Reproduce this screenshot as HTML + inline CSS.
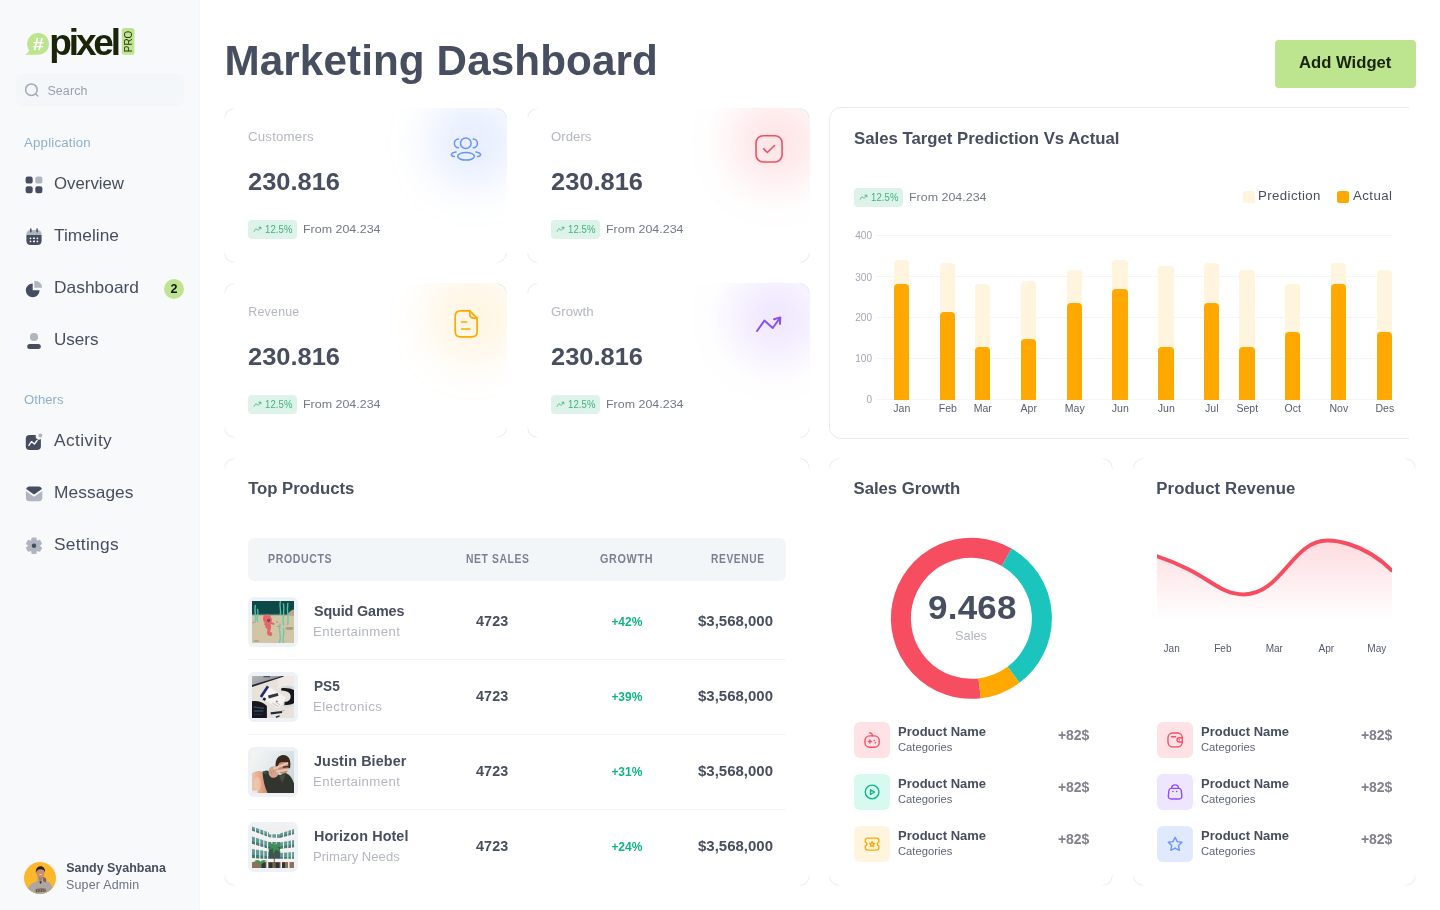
<!DOCTYPE html>
<html lang="en">
<head>
<meta charset="utf-8">
<title>Marketing Dashboard</title>
<style>
*{box-sizing:border-box;margin:0;padding:0}
html,body{width:1440px;height:910px;overflow:hidden;background:#fff}
body{font-family:"Liberation Sans",sans-serif;color:#464E5F;position:relative}
.abs,.t{position:absolute}
.t{white-space:nowrap;line-height:1}
svg{display:block;overflow:visible}
.card{position:absolute;background:#fff;border-radius:12px;overflow:hidden}
.rim{position:absolute;border:1px solid #e3e5ea;border-radius:10.5px;pointer-events:none;
 -webkit-mask:radial-gradient(circle 11.5px at 0 0,#000 70%,transparent 100%),radial-gradient(circle 11.5px at 100% 0,#000 70%,transparent 100%),radial-gradient(circle 11.5px at 0 100%,#000 70%,transparent 100%),radial-gradient(circle 11.5px at 100% 100%,#000 70%,transparent 100%);
 mask:radial-gradient(circle 11.5px at 0 0,#000 70%,transparent 100%),radial-gradient(circle 11.5px at 100% 0,#000 70%,transparent 100%),radial-gradient(circle 11.5px at 0 100%,#000 70%,transparent 100%),radial-gradient(circle 11.5px at 100% 100%,#000 70%,transparent 100%)}

</style>
</head>
<body>
<aside aria-label="Sidebar">
<div class="abs" style="left:0;top:0;width:200px;height:910px;background:#f8f9fb;border-right:1px solid #f4f7fa"></div>
<svg class="abs" style="left:20px;top:24px;" width="120" height="44" viewBox="0 0 120 44"><path d="M18.100 9.100c6 0 10.900 4.900 10.900 10.800s-4.900 10.800-10.900 10.800H5c2-1.100 3.400-2.500 4.200-4.200C7.900 24.700 7.200 22.400 7.200 19.900 7.200 14 12.100 9.100 18.100 9.100z" fill="#bde48f"/><text x="18.3" y="25.900" font-family="'Liberation Sans',sans-serif" font-weight="700" font-size="17" fill="#fff" text-anchor="middle" textLength="11" lengthAdjust="spacingAndGlyphs">#</text><text x="29.300" y="30.700" font-family="'Liberation Sans',sans-serif" font-weight="700" font-size="37" letter-spacing="-3.15" fill="#1a2409">pixel</text><rect x="101.800" y="4.100" width="12.600" height="26.600" rx="2.500" fill="#bde48f"/><text transform="translate(112.300 28.200) rotate(-90)" font-family="'Liberation Sans',sans-serif" font-size="10.500" fill="#2a3a12" textLength="21.500" lengthAdjust="spacingAndGlyphs">PRO</text></svg>
<div class="abs" style="left:16px;top:74px;width:168px;height:32px;background:#f4f7fa;border-radius:6px;"></div>
<svg class="abs" style="left:24px;top:82px;" width="16" height="16" viewBox="0 0 16 16"><circle cx="7.400" cy="7.700" r="5.800" fill="none" stroke="#a3a8b4" stroke-width="1.500"/><path d="M11.700 12l2.100 2" stroke="#a3a8b4" stroke-width="1.500" stroke-linecap="round"/></svg>
<span class="t" style="left:47.40px;top:84px;font-size:12.44px;line-height:14px;color:#9a9eaa;letter-spacing:0.12px;">Search</span>
<span class="t" style="left:24.40px;top:136px;font-size:12.44px;line-height:14px;color:#8fb0cd;letter-spacing:0.18px;transform:scaleX(1.065);transform-origin:0 0;">Application</span>
<span class="t" style="left:24.40px;top:393px;font-size:12.44px;line-height:14px;color:#8fb0cd;transform:scaleX(1.0581);transform-origin:0 0;">Others</span>
<span class="t" style="left:54.40px;top:174px;font-size:16.27px;line-height:18px;transform:scaleX(1.0324);transform-origin:0 0;">Overview</span>
<span class="t" style="left:54.40px;top:226px;font-size:16.27px;line-height:18px;letter-spacing:0.02px;transform:scaleX(1.065);transform-origin:0 0;">Timeline</span>
<span class="t" style="left:54.40px;top:278px;font-size:16.27px;line-height:18px;letter-spacing:0.03px;transform:scaleX(1.065);transform-origin:0 0;">Dashboard</span>
<span class="t" style="left:54.40px;top:330px;font-size:16.27px;line-height:18px;transform:scaleX(1.0497);transform-origin:0 0;">Users</span>
<span class="t" style="left:54.40px;top:431px;font-size:16.27px;line-height:18px;letter-spacing:0.39px;transform:scaleX(1.065);transform-origin:0 0;">Activity</span>
<span class="t" style="left:54.40px;top:483px;font-size:16.27px;line-height:18px;letter-spacing:0.07px;transform:scaleX(1.065);transform-origin:0 0;">Messages</span>
<span class="t" style="left:54.40px;top:535px;font-size:16.27px;line-height:18px;letter-spacing:0.27px;transform:scaleX(1.065);transform-origin:0 0;">Settings</span>
<svg class="abs" style="left:22px;top:173px;" width="24" height="24" viewBox="0 0 24 24"><rect x="3.600" y="3.600" width="7.100" height="7" rx="2.200" fill="#474d61"/><rect x="13.300" y="3.600" width="7.100" height="7" rx="2.200" fill="#b0b5c0"/><rect x="3.600" y="13.200" width="7.100" height="7" rx="2.200" fill="#474d61"/><rect x="13.300" y="13.200" width="7.100" height="7" rx="2.200" fill="#474d61"/></svg>
<svg class="abs" style="left:22px;top:225px;" width="24" height="24" viewBox="0 0 24 24"><path d="M4.400 9.500c0-2.600 1.500-4.400 4.300-4.400h6.600c2.800 0 4.300 1.800 4.300 4.400v0.600H4.400z" fill="#b0b5c0"/><path d="M4.400 10.100h15.200v5.700c0 2.700-1.500 4.300-4.300 4.300H8.700c-2.800 0-4.300-1.600-4.300-4.300z" fill="#474d61"/><path d="M8.800 3.900v2.800M15.100 3.900v2.800" stroke="#474d61" stroke-width="1.500" stroke-linecap="round"/><g fill="#fff"><circle cx="8.500" cy="13.300" r="0.850"/><rect x="11" y="12.500" width="2" height="1.600" rx="0.500"/><circle cx="15.400" cy="13.300" r="0.850"/><circle cx="8.500" cy="16.400" r="0.850"/><rect x="11" y="15.600" width="2" height="1.600" rx="0.500"/><circle cx="15.400" cy="16.400" r="0.850"/></g></svg>
<svg class="abs" style="left:22px;top:277px;" width="24" height="24" viewBox="0 0 24 24"><path d="M10.700 13.300V6.400a6.900 6.900 0 1 0 6.900 6.900z" fill="#474d61"/><path d="M12.300 3.900a7 7 0 0 1 7.800 6.900h-7.800z" fill="#b0b5c0"/></svg>
<svg class="abs" style="left:22px;top:329px;" width="24" height="24" viewBox="0 0 24 24"><circle cx="12" cy="8" r="4.100" fill="#b0b5c0"/><rect x="5.200" y="15" width="13.600" height="5" rx="2.500" fill="#474d61"/></svg>
<svg class="abs" style="left:22px;top:430px;" width="24" height="24" viewBox="0 0 24 24"><path d="M7.400 5.100h6.500a3.300 3.300 0 0 0 5 4v7.400c0 2.200-1.400 3.600-3.600 3.600H7.400c-2.200 0-3.600-1.400-3.600-3.600V8.700c0-2.200 1.400-3.600 3.600-3.600z" fill="#474d61"/><circle cx="18.300" cy="5.400" r="2" fill="#b0b5c0"/><path d="M6.900 15.400l2.600-3.800 2.900 2.500 2.700-3.600" fill="none" stroke="#fff" stroke-width="1.300" stroke-linecap="round" stroke-linejoin="round"/></svg>
<svg class="abs" style="left:22px;top:482px;" width="24" height="24" viewBox="0 0 24 24"><path d="M3.900 8.900l7.300 5.400a1.400 1.400 0 0 0 1.600 0l7.500-5.400v7.200c0 1.900-1.300 3.200-3.200 3.200H7.100c-1.900 0-3.200-1.300-3.200-3.200z" fill="#b0b5c0"/><path d="M4.200 6.900c0.400-1.500 1.600-2.400 3.200-2.400h9.300c1.600 0 2.800 0.900 3.200 2.400l-7 5a1.500 1.500 0 0 1-1.700 0z" fill="#474d61"/></svg>
<svg class="abs" style="left:22px;top:534px;" width="24" height="24" viewBox="0 0 24 24"><polygon points="10.31,4.49 13.69,4.49 14.07,7.36 14.81,7.79 17.49,6.69 19.17,9.61 16.88,11.37 16.88,12.23 19.17,13.99 17.49,16.91 14.81,15.81 14.07,16.24 13.69,19.11 10.31,19.11 9.93,16.24 9.19,15.81 6.51,16.91 4.83,13.99 7.12,12.23 7.12,11.37 4.83,9.61 6.51,6.69 9.19,7.79 9.93,7.36" fill="#b0b5c0" stroke="#b0b5c0" stroke-width="1.800" stroke-linejoin="round"/><circle cx="12" cy="11.800" r="2.200" fill="#474d61"/></svg>
<div class="abs" style="left:164px;top:278.500px;width:20px;height:20px;border-radius:50%;background:#bfe490"></div>
<span class="t" style="left:170.60px;top:282px;font-size:12.6px;line-height:14px;font-weight:700;color:#11190a;">2</span>
<svg class="abs" style="left:24px;top:862px;" width="32" height="32" viewBox="0 0 32 32"><defs><clipPath id="av"><circle cx="16" cy="16" r="16"/></clipPath><filter id="avb" x="-10%" y="-10%" width="120%" height="120%"><feGaussianBlur stdDeviation="0.45"/></filter></defs><g clip-path="url(#av)"><rect width="32" height="32" fill="#fdb72c"/><g filter="url(#avb)"><path d="M3.500 27.500c1-3 2.500-5 5-6l4.300-2.200 0.900-4.800h5.600l2.500 4.300 3.700 1.700c1.800 1.200 2.600 3.500 3.200 7v5H3z" fill="#aea69f"/><path d="M19.300 14.800l2.700 1.700c0.500 1.300 0.300 2.800-0.500 4l-2.500-1.800z" fill="#6f645c"/><path d="M13.300 13.500l3.200 7.500 3-7.500z" fill="#b97c5a"/><path d="M15.200 19.500l1.300 2.500 1.500-2.500z" fill="#2c2b2a"/><ellipse cx="16.400" cy="10.600" rx="4.100" ry="4.900" fill="#c98f6c"/><path d="M12 11c-0.600-3.600 1.300-6.600 4.300-6.700 3.200-0.100 5.200 2.600 4.700 6.300-0.700-2.300-1.800-3.300-4.500-3.300-2.500 0-3.800 1.200-4.500 3.700z" fill="#2a2320"/><path d="M15.300 12.500h2.500" stroke="#f0dccf" stroke-width="0.800"/><path d="M11.500 27c2-0.800 3.500-1 5-0.800 2-0.300 4 0 5.500 0.600l0.500 3-11 0.700z" fill="#6a5a48" opacity="0.550"/><path d="M12.500 27.500v2.500M15 27v3M17.500 27v3M20 27.200v2.600" stroke="#4d4034" stroke-width="0.900" opacity="0.700"/></g></g></svg>
<span class="t" style="left:66.30px;top:861px;font-size:12.44px;line-height:14px;font-weight:700;">Sandy Syahbana</span>
<span class="t" style="left:66.00px;top:878px;font-size:12.44px;line-height:14px;color:#6c7386;letter-spacing:0.20px;">Super Admin</span>
</aside>
<main>
<header>
<span class="t" style="left:224.50px;top:37px;font-size:42.2px;line-height:47px;font-weight:700;letter-spacing:0.11px;">Marketing Dashboard</span>
<div class="abs" style="left:1275px;top:40px;width:141px;height:48px;background:#bde48f;border-radius:4px;"></div>
<span class="t" style="left:1298.80px;top:53px;font-size:16.27px;line-height:18px;font-weight:700;color:#1a2409;transform:scaleX(1.0241);transform-origin:0 0;">Add Widget</span>
</header>
<section aria-label="Statistics">
<div class="card" style="left:224px;top:108px;width:283px;height:155px;"><div class="abs" style="left:203px;top:-12px;width:92px;height:92px;border-radius:50%;background:rgba(105,147,255,0.155);filter:blur(21px)"></div></div>
<div class="rim" style="left:224px;top:108px;width:283px;height:155px"></div>
<span class="t" style="left:248.30px;top:130px;font-size:12.44px;line-height:14px;color:#b4b7c1;letter-spacing:0.19px;transform:scaleX(1.065);transform-origin:0 0;">Customers</span>
<span class="t" style="left:248.30px;top:168px;font-size:24.8px;line-height:27px;font-weight:700;transform:scaleX(1.0263);transform-origin:0 0;">230.816</span>
<div class="abs" style="left:248px;top:220.3px;width:49px;height:18.5px;background:#ddf3ea;border-radius:4px;"></div>
<svg class="abs" style="left:252.5px;top:225.3px;" width="9" height="9" viewBox="0 0 9 9"><path d="M1.200 6.300c0.900-2.300 1.900-3 2.700-2 0.700 0.900 1.300 1.300 2.100 0.200l1.500-2M5.900 2.300l1.800-0.300 0.200 1.800" fill="none" stroke="#3fb27f" stroke-width="0.900" stroke-linecap="round" stroke-linejoin="round"/></svg>
<span class="t" style="left:265.30px;top:224px;font-size:10.05px;line-height:11px;color:#3fb27f;letter-spacing:0.10px;transform:scaleX(0.9482);transform-origin:0 0;">12.5%</span>
<span class="t" style="left:302.50px;top:222px;font-size:11.68px;line-height:13px;color:#747989;letter-spacing:0.01px;transform:scaleX(1.065);transform-origin:0 0;">From 204.234</span>
<svg class="abs" style="left:446px;top:129px;" width="40" height="40" viewBox="0 0 40 40"><g fill="none" stroke="#6993FF" stroke-width="1.500" stroke-linecap="round"><circle cx="19.800" cy="14.300" r="5.300"/><ellipse cx="20" cy="27.300" rx="8.400" ry="3.800"/><path d="M12.500 10.050A4.330 4.330 0 0 0 12.500 18.700M27.300 10.050A4.330 4.330 0 0 1 27.300 18.700"/><path d="M10.100 22.900c-5.800 0.800-6.200 4-1.800 4.700M29.800 22.900c5.800 0.800 6.200 4 1.800 4.700"/></g></svg>
<div class="card" style="left:527px;top:108px;width:283px;height:155px;"><div class="abs" style="left:203px;top:-12px;width:92px;height:92px;border-radius:50%;background:rgba(246,78,96,0.15);filter:blur(21px)"></div></div>
<div class="rim" style="left:527px;top:108px;width:283px;height:155px"></div>
<span class="t" style="left:551.30px;top:130px;font-size:12.44px;line-height:14px;color:#b4b7c1;transform:scaleX(1.065);transform-origin:0 0;">Orders</span>
<span class="t" style="left:551.30px;top:168px;font-size:24.8px;line-height:27px;font-weight:700;transform:scaleX(1.0263);transform-origin:0 0;">230.816</span>
<div class="abs" style="left:551px;top:220.3px;width:49px;height:18.5px;background:#ddf3ea;border-radius:4px;"></div>
<svg class="abs" style="left:555.5px;top:225.3px;" width="9" height="9" viewBox="0 0 9 9"><path d="M1.200 6.300c0.900-2.300 1.900-3 2.700-2 0.700 0.900 1.300 1.300 2.100 0.200l1.500-2M5.900 2.300l1.800-0.300 0.200 1.800" fill="none" stroke="#3fb27f" stroke-width="0.900" stroke-linecap="round" stroke-linejoin="round"/></svg>
<span class="t" style="left:568.30px;top:224px;font-size:10.05px;line-height:11px;color:#3fb27f;letter-spacing:0.10px;transform:scaleX(0.9482);transform-origin:0 0;">12.5%</span>
<span class="t" style="left:605.50px;top:222px;font-size:11.68px;line-height:13px;color:#747989;letter-spacing:0.01px;transform:scaleX(1.065);transform-origin:0 0;">From 204.234</span>
<svg class="abs" style="left:749px;top:129px;" width="40" height="40" viewBox="0 0 40 40"><g fill="none" stroke="#F64E60" stroke-width="1.600" stroke-linecap="round" stroke-linejoin="round"><rect x="7" y="6.700" width="26.100" height="26.300" rx="7.200"/><path d="M14.700 19.900l3.600 3.600 7.200-7"/></g></svg>
<div class="card" style="left:224px;top:283px;width:283px;height:155px;"><div class="abs" style="left:203px;top:-12px;width:92px;height:92px;border-radius:50%;background:rgba(255,168,0,0.115);filter:blur(21px)"></div></div>
<div class="rim" style="left:224px;top:283px;width:283px;height:155px"></div>
<span class="t" style="left:248.30px;top:305px;font-size:12.44px;line-height:14px;color:#b4b7c1;letter-spacing:0.20px;">Revenue</span>
<span class="t" style="left:248.30px;top:343px;font-size:24.8px;line-height:27px;font-weight:700;transform:scaleX(1.0263);transform-origin:0 0;">230.816</span>
<div class="abs" style="left:248px;top:395.3px;width:49px;height:18.5px;background:#ddf3ea;border-radius:4px;"></div>
<svg class="abs" style="left:252.5px;top:400.3px;" width="9" height="9" viewBox="0 0 9 9"><path d="M1.200 6.300c0.900-2.300 1.900-3 2.700-2 0.700 0.900 1.300 1.300 2.100 0.200l1.500-2M5.900 2.300l1.800-0.300 0.200 1.800" fill="none" stroke="#3fb27f" stroke-width="0.900" stroke-linecap="round" stroke-linejoin="round"/></svg>
<span class="t" style="left:265.30px;top:399px;font-size:10.05px;line-height:11px;color:#3fb27f;letter-spacing:0.10px;transform:scaleX(0.9482);transform-origin:0 0;">12.5%</span>
<span class="t" style="left:302.50px;top:397px;font-size:11.68px;line-height:13px;color:#747989;letter-spacing:0.01px;transform:scaleX(1.065);transform-origin:0 0;">From 204.234</span>
<svg class="abs" style="left:446px;top:304px;" width="40" height="40" viewBox="0 0 40 40"><g fill="none" stroke="#FFA800" stroke-width="1.700" stroke-linecap="round" stroke-linejoin="round"><path d="M23.800 6.800H14.600c-3.400 0-5.400 2-5.400 5.400v15.300c0 3.400 2 5.400 5.400 5.400h11.100c3.400 0 5.400-2 5.400-5.400V14.100z"/><path d="M23.800 6.800v3.200c0 2.700 1.400 4.100 4.100 4.100h3.200"/><path d="M15.600 18h5M15.600 25h8.100"/></g></svg>
<div class="card" style="left:527px;top:283px;width:283px;height:155px;"><div class="abs" style="left:203px;top:-12px;width:92px;height:92px;border-radius:50%;background:rgba(137,80,252,0.13);filter:blur(21px)"></div></div>
<div class="rim" style="left:527px;top:283px;width:283px;height:155px"></div>
<span class="t" style="left:551.30px;top:305px;font-size:12.44px;line-height:14px;color:#b4b7c1;transform:scaleX(1.0624);transform-origin:0 0;">Growth</span>
<span class="t" style="left:551.30px;top:343px;font-size:24.8px;line-height:27px;font-weight:700;transform:scaleX(1.0263);transform-origin:0 0;">230.816</span>
<div class="abs" style="left:551px;top:395.3px;width:49px;height:18.5px;background:#ddf3ea;border-radius:4px;"></div>
<svg class="abs" style="left:555.5px;top:400.3px;" width="9" height="9" viewBox="0 0 9 9"><path d="M1.200 6.300c0.900-2.300 1.900-3 2.700-2 0.700 0.900 1.300 1.300 2.100 0.200l1.500-2M5.900 2.300l1.800-0.300 0.200 1.800" fill="none" stroke="#3fb27f" stroke-width="0.900" stroke-linecap="round" stroke-linejoin="round"/></svg>
<span class="t" style="left:568.30px;top:399px;font-size:10.05px;line-height:11px;color:#3fb27f;letter-spacing:0.10px;transform:scaleX(0.9482);transform-origin:0 0;">12.5%</span>
<span class="t" style="left:605.50px;top:397px;font-size:11.68px;line-height:13px;color:#747989;letter-spacing:0.01px;transform:scaleX(1.065);transform-origin:0 0;">From 204.234</span>
<svg class="abs" style="left:749px;top:304px;" width="40" height="40" viewBox="0 0 40 40"><g fill="none" stroke="#8950FC" stroke-width="2" stroke-linecap="round" stroke-linejoin="round"><path d="M8 27l7.400-10.400 8.300 7.400 7.300-10.200"/><path d="M25 15.300l6.300-1.900-0.400 6.500"/></g></svg>
</section>
<section aria-label="Sales Target Prediction Vs Actual">
<div class="abs" style="left:829px;top:107px;width:580px;height:332px;overflow:hidden"><div class="abs" style="left:0;top:0;width:600px;height:332px;border:1px solid #e8eaee;border-radius:12px;background:#fff"></div></div>
<span class="t" style="left:854.00px;top:129px;font-size:16.27px;line-height:18px;font-weight:700;transform:scaleX(1.0303);transform-origin:0 0;">Sales Target Prediction Vs Actual</span>
<div class="abs" style="left:854px;top:188.3px;width:49px;height:18.5px;background:#ddf3ea;border-radius:4px;"></div>
<svg class="abs" style="left:858.5px;top:193.3px;" width="9" height="9" viewBox="0 0 9 9"><path d="M1.200 6.300c0.900-2.300 1.900-3 2.700-2 0.700 0.900 1.300 1.300 2.100 0.200l1.500-2M5.900 2.300l1.800-0.300 0.200 1.800" fill="none" stroke="#3fb27f" stroke-width="0.900" stroke-linecap="round" stroke-linejoin="round"/></svg>
<span class="t" style="left:871.30px;top:192px;font-size:10.05px;line-height:11px;color:#3fb27f;letter-spacing:0.10px;transform:scaleX(0.9482);transform-origin:0 0;">12.5%</span>
<span class="t" style="left:908.50px;top:190px;font-size:11.68px;line-height:13px;color:#747989;letter-spacing:0.01px;transform:scaleX(1.065);transform-origin:0 0;">From 204.234</span>
<div class="abs" style="left:1243px;top:191px;width:12px;height:12px;background:#FFF4DE;border-radius:2.5px;"></div>
<span class="t" style="left:1258.00px;top:189px;font-size:12.44px;line-height:14px;letter-spacing:0.37px;transform:scaleX(1.065);transform-origin:0 0;">Prediction</span>
<div class="abs" style="left:1337px;top:191px;width:12px;height:12px;background:#FFA800;border-radius:2.5px;"></div>
<span class="t" style="left:1353.00px;top:189px;font-size:12.44px;line-height:14px;letter-spacing:0.41px;transform:scaleX(1.065);transform-origin:0 0;">Actual</span>
<div class="abs" style="left:876px;top:235px;width:516px;height:1px;background:#f4f5f7;"></div>
<span class="t" style="left:855.23px;top:230px;font-size:10.05px;line-height:11px;color:#a3a6b3;">400</span>
<div class="abs" style="left:876px;top:276px;width:516px;height:1px;background:#f4f5f7;"></div>
<span class="t" style="left:855.23px;top:272px;font-size:10.05px;line-height:11px;color:#a3a6b3;">300</span>
<div class="abs" style="left:876px;top:317px;width:516px;height:1px;background:#f4f5f7;"></div>
<span class="t" style="left:855.23px;top:312px;font-size:10.05px;line-height:11px;color:#a3a6b3;">200</span>
<div class="abs" style="left:876px;top:358px;width:516px;height:1px;background:#f4f5f7;"></div>
<span class="t" style="left:855.23px;top:353px;font-size:10.05px;line-height:11px;color:#a3a6b3;">100</span>
<div class="abs" style="left:876px;top:399px;width:516px;height:1px;background:#f4f5f7;"></div>
<span class="t" style="left:866.41px;top:394px;font-size:10.05px;line-height:11px;color:#a3a6b3;">0</span>
<div class="abs" style="left:894px;top:260px;width:15px;height:140px;background:#FFF4DE;border-radius:4px 4px 0 0;"></div>
<div class="abs" style="left:894px;top:283.7px;width:15px;height:116.3px;background:#FFA800;border-radius:4px 4px 0 0;"></div>
<span class="t" style="left:893.31px;top:402px;font-size:10.53px;line-height:12px;color:#565d71;">Jan</span>
<div class="abs" style="left:940px;top:263px;width:15px;height:137px;background:#FFF4DE;border-radius:4px 4px 0 0;"></div>
<div class="abs" style="left:940px;top:312px;width:15px;height:88px;background:#FFA800;border-radius:4px 4px 0 0;"></div>
<span class="t" style="left:938.73px;top:402px;font-size:10.53px;line-height:12px;color:#565d71;">Feb</span>
<div class="abs" style="left:975px;top:283.7px;width:15px;height:116.3px;background:#FFF4DE;border-radius:4px 4px 0 0;"></div>
<div class="abs" style="left:975px;top:346.8px;width:15px;height:53.2px;background:#FFA800;border-radius:4px 4px 0 0;"></div>
<span class="t" style="left:973.73px;top:402px;font-size:10.53px;line-height:12px;color:#565d71;">Mar</span>
<div class="abs" style="left:1021px;top:281px;width:15px;height:119px;background:#FFF4DE;border-radius:4px 4px 0 0;"></div>
<div class="abs" style="left:1021px;top:339px;width:15px;height:61px;background:#FFA800;border-radius:4px 4px 0 0;"></div>
<span class="t" style="left:1020.61px;top:402px;font-size:10.53px;line-height:12px;color:#565d71;">Apr</span>
<div class="abs" style="left:1067px;top:270px;width:15px;height:130px;background:#FFF4DE;border-radius:4px 4px 0 0;"></div>
<div class="abs" style="left:1067px;top:303px;width:15px;height:97px;background:#FFA800;border-radius:4px 4px 0 0;"></div>
<span class="t" style="left:1064.85px;top:402px;font-size:10.53px;line-height:12px;color:#565d71;">May</span>
<div class="abs" style="left:1112px;top:260px;width:16px;height:140px;background:#FFF4DE;border-radius:4px 4px 0 0;"></div>
<div class="abs" style="left:1112px;top:288.8px;width:16px;height:111.2px;background:#FFA800;border-radius:4px 4px 0 0;"></div>
<span class="t" style="left:1111.81px;top:402px;font-size:10.53px;line-height:12px;color:#565d71;">Jun</span>
<div class="abs" style="left:1158px;top:266.2px;width:16px;height:133.8px;background:#FFF4DE;border-radius:4px 4px 0 0;"></div>
<div class="abs" style="left:1158px;top:346.8px;width:16px;height:53.2px;background:#FFA800;border-radius:4px 4px 0 0;"></div>
<span class="t" style="left:1157.81px;top:402px;font-size:10.53px;line-height:12px;color:#565d71;">Jun</span>
<div class="abs" style="left:1204px;top:263px;width:15px;height:137px;background:#FFF4DE;border-radius:4px 4px 0 0;"></div>
<div class="abs" style="left:1204px;top:303px;width:15px;height:97px;background:#FFA800;border-radius:4px 4px 0 0;"></div>
<span class="t" style="left:1205.07px;top:402px;font-size:10.53px;line-height:12px;color:#565d71;">Jul</span>
<div class="abs" style="left:1239px;top:270px;width:16px;height:130px;background:#FFF4DE;border-radius:4px 4px 0 0;"></div>
<div class="abs" style="left:1239px;top:346.8px;width:16px;height:53.2px;background:#FFA800;border-radius:4px 4px 0 0;"></div>
<span class="t" style="left:1236.47px;top:402px;font-size:10.53px;line-height:12px;color:#565d71;">Sept</span>
<div class="abs" style="left:1285px;top:284px;width:15px;height:116px;background:#FFF4DE;border-radius:4px 4px 0 0;"></div>
<div class="abs" style="left:1285px;top:332px;width:15px;height:68px;background:#FFA800;border-radius:4px 4px 0 0;"></div>
<span class="t" style="left:1284.61px;top:402px;font-size:10.53px;line-height:12px;color:#565d71;">Oct</span>
<div class="abs" style="left:1331px;top:263px;width:15px;height:137px;background:#FFF4DE;border-radius:4px 4px 0 0;"></div>
<div class="abs" style="left:1331px;top:284px;width:15px;height:116px;background:#FFA800;border-radius:4px 4px 0 0;"></div>
<span class="t" style="left:1329.44px;top:402px;font-size:10.53px;line-height:12px;color:#565d71;">Nov</span>
<div class="abs" style="left:1377px;top:270px;width:15px;height:130px;background:#FFF4DE;border-radius:4px 4px 0 0;"></div>
<div class="abs" style="left:1377px;top:332px;width:15px;height:68px;background:#FFA800;border-radius:4px 4px 0 0;"></div>
<span class="t" style="left:1375.44px;top:402px;font-size:10.53px;line-height:12px;color:#565d71;">Des</span>
</section>
<section aria-label="Top Products">
<div class="rim" style="left:224px;top:458px;width:586px;height:428px"></div>
<span class="t" style="left:248.20px;top:479px;font-size:16.75px;line-height:19px;font-weight:700;letter-spacing:-0.06px;">Top Products</span>
<div class="abs" style="left:248px;top:538px;width:538px;height:42.5px;background:#f3f6f9;border-radius:6px;"></div>
<span class="t" style="left:268.20px;top:552px;font-size:11.96px;line-height:14px;font-weight:700;color:#7c8091;letter-spacing:0.70px;transform:scaleX(0.8832);transform-origin:0 0;">PRODUCTS</span>
<span class="t" style="left:466.00px;top:552px;font-size:11.96px;line-height:14px;font-weight:700;color:#7c8091;letter-spacing:0.70px;transform:scaleX(0.8664);transform-origin:0 0;">NET SALES</span>
<span class="t" style="left:600.40px;top:552px;font-size:11.96px;line-height:14px;font-weight:700;color:#7c8091;letter-spacing:0.70px;transform:scaleX(0.9056);transform-origin:0 0;">GROWTH</span>
<span class="t" style="left:711.10px;top:552px;font-size:11.96px;line-height:14px;font-weight:700;color:#7c8091;letter-spacing:0.70px;transform:scaleX(0.8546);transform-origin:0 0;">REVENUE</span>
<div class="abs" style="left:248px;top:597px;width:50px;height:50px;background:#eef2f6;border-radius:6px;"></div>
<svg class="abs" style="left:252px;top:601px;overflow:hidden;" width="42" height="42" viewBox="0 0 42 42"><defs><filter id="tb0" x="-5%" y="-5%" width="110%" height="110%"><feGaussianBlur stdDeviation="0.4"/></filter></defs><g filter="url(#tb0)"><rect width="42" height="42" fill="#d0c6a5"/><rect width="42" height="13.800" fill="#10494a"/><rect y="12.800" width="42" height="1.800" fill="#6f8f7c" opacity="0.450"/><path d="M35.500 14c1.500-3.500 4-5 6.500-5.500v6z" fill="#b3a88a"/><ellipse cx="37.500" cy="27.400" rx="4" ry="1.400" fill="#a69b7e"/><ellipse cx="25" cy="21" rx="1.200" ry="0.700" fill="#a69b7e"/><ellipse cx="26" cy="25.400" rx="1.100" ry="0.600" fill="#a69b7e"/><ellipse cx="4.300" cy="39.900" rx="3.200" ry="1" fill="#b0a68a"/><ellipse cx="1.500" cy="21.500" rx="1.500" ry="0.800" fill="#b0a68a"/><g fill="none" stroke="#63c8ae" stroke-width="1.400" stroke-linecap="round" opacity="0.900"><path d="M3.300 4.500q-0.700 4 0 8t0 8.300M5.600 8.500q0.600 3 0 6t0 6M28.300 0.500q-0.600 3.400 0 6.800t0 6.700M31.500 3q0.700 5 0 10.500t0 10.500M35.800 2.500q-0.700 5 0 10.500t0 10.500M28 23q-1 5 0 9.500t-0.500 9.500M31.500 27.500q0.800 4 0 7.500t0 7"/></g><path d="M11.300 15.800l0.900-2.300 1.500 1.300 1.700-2 1.100 1.900 2-0.900 0.200 2.200c1.400 1.300 1.600 3.300 0.800 5l3.300 1.400-0.800 1.700-3.500-1.100c1.200 2.600 0.700 5.800-0.900 7.800 2 0.100 3.100 1.400 2.600 2.900-0.600 1.700-3.500 1.700-4.700-0.200-0.900-1.500-0.400-3.600 0.200-5-1.700-0.900-2.700-2.600-2.500-4.600l-1.500-0.300 1.200-1.600c-1.900-1.600-2.400-4.100-1.600-6.200z" fill="#e5646c"/><circle cx="16.600" cy="19.400" r="1.300" fill="#4a3338"/><circle cx="16.200" cy="19" r="0.400" fill="#e9c9c9"/></g></svg>
<span class="t" style="left:314.00px;top:603px;font-size:14.35px;line-height:16px;font-weight:700;letter-spacing:-0.13px;">Squid Games</span>
<span class="t" style="left:313.20px;top:625px;font-size:12.44px;line-height:14px;color:#b4b7c1;letter-spacing:0.34px;transform:scaleX(1.065);transform-origin:0 0;">Entertainment</span>
<span class="t" style="left:476.00px;top:613px;font-size:14.3px;line-height:16px;font-weight:700;letter-spacing:0.16px;">4723</span>
<span class="t" style="left:611.38px;top:615px;font-size:11.96px;line-height:14px;font-weight:700;color:#0BB783;">+42%</span>
<span class="t" style="left:698.40px;top:613px;font-size:14.3px;line-height:16px;font-weight:700;transform:scaleX(1.0479);transform-origin:0 0;">$3,568,000</span>
<div class="abs" style="left:248px;top:659px;width:538px;height:1px;background:#f3f4f6;"></div>
<div class="abs" style="left:248px;top:672px;width:50px;height:50px;background:#eef2f6;border-radius:6px;"></div>
<svg class="abs" style="left:252px;top:676px;overflow:hidden;" width="42" height="42" viewBox="0 0 42 42"><defs><filter id="tb1" x="-5%" y="-5%" width="110%" height="110%"><feGaussianBlur stdDeviation="0.4"/></filter></defs><g filter="url(#tb1)"><defs><linearGradient id="lp" x1="0" y1="0" x2="1" y2="0.400"><stop offset="0" stop-color="#b3b6b9"/><stop offset="1" stop-color="#8b8e92"/></linearGradient></defs><rect width="42" height="42" fill="#e9e2db"/><rect x="26" width="16" height="12" fill="#efe9e5"/><path d="M0 0h30.500L0 9.200z" fill="url(#lp)"/><path d="M0 9l30.700-9.200 1.300 0.800L0 10.900z" fill="#23272b"/><path d="M11.500 0.300h6.500v0.900h-6.500z" fill="#2a2d31"/><path d="M14.900 9.600L34 21.750 26.750 32.750 7.750 20.250z" fill="#f4f4f4"/><path d="M14.900 9.600l2.200 1.400-7.100 10.700-2.250-1.450z" fill="#1c2c6a"/><path d="M16 19.600l9.700-2.700 0.800 2.900-9.700 2.700z" fill="#35353a"/><path d="M11.900 21.300l2.300 1.400-1.500 2.300-2.200-1.500z" fill="#1f1f22"/><circle cx="24.900" cy="25.300" r="0.900" fill="#d9534f"/><path d="M20.500 27l6.500 4" stroke="#9a9a9a" stroke-width="0.600"/><path d="M23.500 26l4.500 2.800" stroke="#8a8a8a" stroke-width="0.500"/><path d="M29.200 10.800c4-1.400 9-1.500 12.800 0.300v3.500c-4-1.300-8.500-1.600-12.800-1.200z" fill="#d3d7dc"/><path d="M29.200 12.200c5-0.600 9.500 0 12.800 1.800v13.500c-3 2-6.500 2.500-9.800 2l0.500-3.700c2.500 0 4.300-0.900 5.300-2.600 1.300-2.400 0.800-5.300-1.500-7-2-1.400-4.700-1.700-7.300-1.800z" fill="#16181b"/><path d="M32.500 28.800c3.300 0.500 6.700 0 9.500-1.500v2.400c-3 1.400-6.300 1.800-9.700 1.200z" fill="#d9dce0"/><path d="M0 25.300c5.500-0.800 11 0.600 14.900 4.700V42H0z" fill="#15181c"/><path d="M1.500 31l10.500 1.300M2 35h9.500" stroke="#2c4a63" stroke-width="1.500"/><path d="M2 38.500h8" stroke="#23313f" stroke-width="1.200"/><path d="M18.600 36.300l11.300-1.400 0.300 2-11.300 1.600zM23.700 40.500l3.700-1.200 0.400 1.300-3.600 1.300z" fill="#1b2a39"/><path d="M29.900 34.900l2.600-0.400" stroke="#8aa0b5" stroke-width="0.800"/></g></svg>
<span class="t" style="left:314.00px;top:678px;font-size:14.35px;line-height:16px;font-weight:700;transform:scaleX(0.9512);transform-origin:0 0;">PS5</span>
<span class="t" style="left:313.20px;top:700px;font-size:12.44px;line-height:14px;color:#b4b7c1;letter-spacing:0.38px;transform:scaleX(1.065);transform-origin:0 0;">Electronics</span>
<span class="t" style="left:476.00px;top:688px;font-size:14.3px;line-height:16px;font-weight:700;letter-spacing:0.16px;">4723</span>
<span class="t" style="left:611.38px;top:690px;font-size:11.96px;line-height:14px;font-weight:700;color:#0BB783;">+39%</span>
<span class="t" style="left:698.40px;top:688px;font-size:14.3px;line-height:16px;font-weight:700;transform:scaleX(1.0479);transform-origin:0 0;">$3,568,000</span>
<div class="abs" style="left:248px;top:734px;width:538px;height:1px;background:#f3f4f6;"></div>
<div class="abs" style="left:248px;top:747px;width:50px;height:50px;background:#eef2f6;border-radius:6px;"></div>
<svg class="abs" style="left:252px;top:751px;overflow:hidden;" width="42" height="42" viewBox="0 0 42 42"><defs><filter id="tb2" x="-5%" y="-5%" width="110%" height="110%"><feGaussianBlur stdDeviation="0.4"/></filter></defs><g filter="url(#tb2)"><defs><linearGradient id="jb" x1="0" y1="0" x2="1" y2="0.600"><stop offset="0" stop-color="#f6f5f4"/><stop offset="0.500" stop-color="#e3eaec"/><stop offset="1" stop-color="#cad9de"/></linearGradient><linearGradient id="jba" x1="0" y1="0" x2="1" y2="0"><stop offset="0" stop-color="#f0c3a6"/><stop offset="1" stop-color="#d68f6b"/></linearGradient></defs><rect width="42" height="42" fill="url(#jb)"/><path d="M23.800 17c-1.200-6.500 1.500-12.800 7.400-13 5.600-0.200 8.300 5.400 6.800 13.200z" fill="#3b261c"/><ellipse cx="31.300" cy="16.300" rx="5.200" ry="7" fill="#c28b72"/><path d="M25.800 12.500c1-3.500 3-5 5.600-5 2.800 0 4.700 1.800 5.300 5.500-2-1.800-4-2.300-6-2-1.800 0.300-3.400 0.800-4.900 1.500z" fill="#3b261c"/><path d="M9.300 21.500c4-2.600 9.500-2.300 13.500 1l5.200 1.500 5.500-2c4.500 1.500 7 5.500 8.500 10.500v9.500H13.500c-3.500-6-4.800-13.500-4.200-20.500z" fill="#30352d"/><path d="M27 24l3 8 4-9.500c-2 1.700-4.500 2.200-7 1.500z" fill="#4a4f3f"/><path d="M9.500 21.500c1.800-1.200 3.600-1.800 5.400-1.800l-0.600 3.800z" fill="#2d5953"/><path d="M0 22.500c3.500-2.800 7.500-3.300 10.500-1.500 0.500 7.500 2 14.500 5 21H0z" fill="url(#jba)"/><ellipse cx="5.500" cy="33" rx="3.500" ry="7" fill="#f4d2bb" opacity="0.550"/><path d="M0 39.500h5.500V42H0z" fill="#f5e6e1"/><path d="M16.500 20c0.500-3 3-5 6-4.600l3.500 2.300c1.500 2.700 0.800 6.300-1.700 8.300-2.800 1.700-6 0.700-7.300-2.300-0.500-1.200-0.700-2.500-0.500-3.700z" fill="#d6a58d"/><path d="M22 17.500l13.300-5.300M25 20.300l11-1.700" stroke="#ebc5b4" stroke-width="2.300" stroke-linecap="round" fill="none"/><path d="M31.500 16.200l5 -0.600" stroke="#2a2220" stroke-width="1.300" stroke-linecap="round"/><path d="M18.500 19.500l1.500 4M21 18.300l1.300 3.800" stroke="#b98a74" stroke-width="0.700" fill="none"/></g></svg>
<span class="t" style="left:314.00px;top:753px;font-size:14.35px;line-height:16px;font-weight:700;letter-spacing:0.13px;">Justin Bieber</span>
<span class="t" style="left:313.20px;top:775px;font-size:12.44px;line-height:14px;color:#b4b7c1;letter-spacing:0.34px;transform:scaleX(1.065);transform-origin:0 0;">Entertainment</span>
<span class="t" style="left:476.00px;top:763px;font-size:14.3px;line-height:16px;font-weight:700;letter-spacing:0.16px;">4723</span>
<span class="t" style="left:611.38px;top:765px;font-size:11.96px;line-height:14px;font-weight:700;color:#0BB783;">+31%</span>
<span class="t" style="left:698.40px;top:763px;font-size:14.3px;line-height:16px;font-weight:700;transform:scaleX(1.0479);transform-origin:0 0;">$3,568,000</span>
<div class="abs" style="left:248px;top:809px;width:538px;height:1px;background:#f3f4f6;"></div>
<div class="abs" style="left:248px;top:822px;width:50px;height:50px;background:#eef2f6;border-radius:6px;"></div>
<svg class="abs" style="left:252px;top:826px;overflow:hidden;" width="42" height="42" viewBox="0 0 42 42"><defs><filter id="tb3" x="-5%" y="-5%" width="110%" height="110%"><feGaussianBlur stdDeviation="0.4"/></filter></defs><g filter="url(#tb3)"><rect width="42" height="42" fill="#f1efef"/><g fill="#5f9c96"><path d="M0 0.500L17 6.600V11.900L0 4.800z"/><path d="M0 10.500L17 16.100V23.100L0 18z"/><path d="M0 23L17 25.500V33.400L0 32z"/><path d="M28 7.500L42 3V8.500L28 12z"/><path d="M28 16.500L42 14V21.500L28 23z"/><path d="M28 27L42 26V33.500H28z"/><path d="M17 8.300H28V12.600H17z"/></g><g fill="#2f5754" opacity="0.500"><path d="M0 3.200L17 9.600V11.900L0 4.800z"/><path d="M0 15L17 20.200V23.100L0 18z"/><path d="M0 28.500L17 30.300V33.400L0 32z"/><path d="M28 10L42 6.200V8.500L28 12z"/><path d="M28 20.300L42 18.300V21.500L28 23z"/><path d="M28 31H42V33.500H28z"/></g><path d="M17 16h11v20H17z" fill="#3a5653"/><path d="M17 16h11v5H17z" fill="#5f9c96" opacity="0.600"/><g stroke="#f1efef" stroke-width="1.100" fill="none"><path d="M3.500 0v36M7.800 0v36M11.800 0v36M15.500 0v36M19.800 6v12M24.500 6v12M31.500 0v36M35.800 0v36M39.500 0v36"/></g><g fill="#f4f2f2"><path d="M0 4.800L18 11.400 28 12 42 8.300V10.800L28 14.500 18 13.900 0 7.500z"/><path d="M0 18L17 23.100V25.500L0 20.600z"/><path d="M28 23L42 21.500V24L28 25.500z"/><path d="M0 32.800H42V36H0z"/></g><path d="M0 36h42v6H0z" fill="#8f7058"/><g fill="#2a3534"><path d="M9.500 36.500h4V42h-4zM17 36.500h3.500V42H17zM23.500 36.500h4V42h-4zM30 36.500h3V42h-3z"/></g><g fill="#efe9e6"><path d="M14.500 36h1.500v6h-1.500zM28.500 36H30v6h-1.500zM36 36h1.500v6H36z"/></g><path d="M22.300 24v17.500" stroke="#5c5140" stroke-width="0.900"/><path d="M22.300 19.500c-2.500-2.500-5-2.700-6.300-1.300 2.300 0 3.800 0.800 4.800 2.200-2.400 0-4.200 1.600-4.600 4.400 1.800-1.700 3.600-2.300 5.300-2-0.800 1.600-0.800 3.300 0 5.200 0.500-2 1.400-3.500 2.600-4.300 1.800 0.300 3.300 1.600 4.300 3.800 0.300-3-0.800-5.200-3-6.300 1.900-0.500 3.400 0 4.600 1.200-0.700-2.800-3.700-4.300-7.700-2.900z" fill="#3c8f4f"/><path d="M21.500 18c1-1.200 2.500-1.700 4.500-1.200-1.500 0.500-2.500 1.300-3 2.500z" fill="#56b068"/><path d="M8.500 41.500v-5c-1.500-1.800-3.300-2.300-5-1.300 1.700 0.100 3 0.800 3.800 2.200M8.500 36.500c1.300-1.800 3-2.300 5-1.500-1.800 0.300-3 1.100-3.800 2.400" fill="none" stroke="#3f9552" stroke-width="1.200" stroke-linecap="round"/></g></svg>
<span class="t" style="left:314.00px;top:828px;font-size:14.35px;line-height:16px;font-weight:700;letter-spacing:0.10px;">Horizon Hotel</span>
<span class="t" style="left:313.20px;top:850px;font-size:12.44px;line-height:14px;color:#b4b7c1;transform:scaleX(1.0551);transform-origin:0 0;">Primary Needs</span>
<span class="t" style="left:476.00px;top:838px;font-size:14.3px;line-height:16px;font-weight:700;letter-spacing:0.16px;">4723</span>
<span class="t" style="left:611.38px;top:840px;font-size:11.96px;line-height:14px;font-weight:700;color:#0BB783;">+24%</span>
<span class="t" style="left:698.40px;top:838px;font-size:14.3px;line-height:16px;font-weight:700;transform:scaleX(1.0479);transform-origin:0 0;">$3,568,000</span>
</section>
<section aria-label="Sales Growth">
<div class="rim" style="left:829px;top:458px;width:284px;height:428px"></div>
<span class="t" style="left:853.50px;top:479px;font-size:16.75px;line-height:19px;font-weight:700;letter-spacing:-0.03px;">Sales Growth</span>
<svg class="abs" style="left:881px;top:528px;" width="181" height="181" viewBox="0 0 181 181"><g fill="none" stroke-width="20"><path d="M98.63 160.32A70.5 70.5 0 1 1 125.65 29.25" stroke="#F64E60"/><path d="M125.65 29.25A70.5 70.5 0 0 1 132.53 146.83" stroke="#1BC5BD"/><path d="M132.53 146.83A70.5 70.5 0 0 1 98.63 160.32" stroke="#FFA800"/></g></svg>
<span class="t" style="left:927.55px;top:589px;font-size:32.8px;line-height:37px;font-weight:700;letter-spacing:0.25px;transform:scaleX(1.065);transform-origin:0 0;">9.468</span>
<span class="t" style="left:954.70px;top:629px;font-size:11.96px;line-height:14px;color:#b4b7c1;letter-spacing:0.03px;transform:scaleX(1.065);transform-origin:0 0;">Sales</span>
<div class="abs" style="left:854px;top:722px;width:36px;height:36px;background:#FFE2E5;border-radius:6px;"></div>
<svg class="abs" style="left:860.9px;top:728.9px;" width="22.2" height="22.2" viewBox="0 0 24 24"><g fill="none" stroke="#F64E60" stroke-width="1.500" stroke-linecap="round" stroke-linejoin="round"><rect x="4.300" y="7.400" width="15.400" height="12.300" rx="5" /><path d="M12.200 7.400c0.300-2-0.800-3.100-3-3.200"/><path d="M8 13.500h3.300M9.650 11.850v3.300"/><path d="M14.400 12.500h0.100M15.500 15h0.100" stroke-width="1.700"/></g></svg>
<span class="t" style="left:898.00px;top:725px;font-size:12.44px;line-height:14px;font-weight:700;transform:scaleX(1.0435);transform-origin:0 0;">Product Name</span>
<span class="t" style="left:898.00px;top:741px;font-size:10.53px;line-height:12px;color:#5e6578;letter-spacing:0.01px;transform:scaleX(1.065);transform-origin:0 0;">Categories</span>
<span class="t" style="left:1057.90px;top:727px;font-size:14px;line-height:16px;font-weight:700;color:#80808f;letter-spacing:-0.08px;">+82$</span>
<div class="abs" style="left:854px;top:774px;width:36px;height:36px;background:#D7F9EF;border-radius:6px;"></div>
<svg class="abs" style="left:860.9px;top:780.9px;" width="22.2" height="22.2" viewBox="0 0 24 24"><g fill="none" stroke="#0BB783" stroke-width="1.500" stroke-linecap="round" stroke-linejoin="round"><circle cx="12" cy="11.900" r="7.400"/><path d="M10.300 9.500l4.400 2.400-4.400 2.700z"/></g></svg>
<span class="t" style="left:898.00px;top:777px;font-size:12.44px;line-height:14px;font-weight:700;transform:scaleX(1.0435);transform-origin:0 0;">Product Name</span>
<span class="t" style="left:898.00px;top:793px;font-size:10.53px;line-height:12px;color:#5e6578;letter-spacing:0.01px;transform:scaleX(1.065);transform-origin:0 0;">Categories</span>
<span class="t" style="left:1057.90px;top:779px;font-size:14px;line-height:16px;font-weight:700;color:#80808f;letter-spacing:-0.08px;">+82$</span>
<div class="abs" style="left:854px;top:826px;width:36px;height:36px;background:#FFF4DE;border-radius:6px;"></div>
<svg class="abs" style="left:860.9px;top:832.9px;" width="22.2" height="22.2" viewBox="0 0 24 24"><g fill="none" stroke="#FFA800" stroke-width="1.500" stroke-linecap="round" stroke-linejoin="round"><path d="M7.200 5.500h9.600c1.600 0 2.500 0.900 2.500 2.500v1.900c-1.100 0.300-1.700 1.100-1.700 2.100s0.600 1.800 1.700 2.100v1.900c0 1.600-0.900 2.500-2.500 2.500H7.200c-1.600 0-2.500-0.900-2.500-2.500v-1.900c1.100-0.300 1.700-1.100 1.700-2.100s-0.600-1.800-1.700-2.100V8c0-1.600 0.900-2.500 2.500-2.500z"/><path d="M12 9.400l0.900 1.700 1.900 0.300-1.400 1.300 0.300 1.900-1.700-0.900-1.700 0.900 0.300-1.900-1.400-1.300 1.900-0.300z"/></g></svg>
<span class="t" style="left:898.00px;top:829px;font-size:12.44px;line-height:14px;font-weight:700;transform:scaleX(1.0435);transform-origin:0 0;">Product Name</span>
<span class="t" style="left:898.00px;top:845px;font-size:10.53px;line-height:12px;color:#5e6578;letter-spacing:0.01px;transform:scaleX(1.065);transform-origin:0 0;">Categories</span>
<span class="t" style="left:1057.90px;top:831px;font-size:14px;line-height:16px;font-weight:700;color:#80808f;letter-spacing:-0.08px;">+82$</span>
</section>
<section aria-label="Product Revenue">
<div class="rim" style="left:1133px;top:458px;width:283px;height:428px"></div>
<span class="t" style="left:1156.30px;top:479px;font-size:16.75px;line-height:19px;font-weight:700;letter-spacing:0.09px;">Product Revenue</span>
<svg class="abs" style="left:1157px;top:538px;" width="235" height="90" viewBox="0 0 235 90"><defs><linearGradient id="ar" x1="0" y1="0" x2="0" y2="1"><stop offset="0" stop-color="#F64E60" stop-opacity="0.2"/><stop offset="1" stop-color="#F64E60" stop-opacity="0"/></linearGradient><clipPath id="arc"><rect x="0" y="-5" width="235" height="95"/></clipPath></defs><g clip-path="url(#arc)"><path d="M-0.5 18.1C52.7 35.6 59.8 56.4 86.8 56.4C124.9 56.4 134.8 2.6 170.1 2.6C170.2 2.6 204.2 1.3 235.5 33.2V82H-0.5z" fill="url(#ar)"/><path d="M-0.5 18.1C52.7 35.6 59.8 56.4 86.8 56.4C124.9 56.4 134.8 2.6 170.1 2.6C170.2 2.6 204.2 1.3 235.5 33.2" fill="none" stroke="#F64E60" stroke-width="4"/></g></svg>
<span class="t" style="left:1163.60px;top:643px;font-size:10.05px;line-height:11px;color:#535a6e;">Jan</span>
<span class="t" style="left:1214.24px;top:643px;font-size:10.05px;line-height:11px;color:#535a6e;">Feb</span>
<span class="t" style="left:1265.65px;top:643px;font-size:10.05px;line-height:11px;color:#535a6e;">Mar</span>
<span class="t" style="left:1318.48px;top:643px;font-size:10.05px;line-height:11px;color:#535a6e;">Apr</span>
<span class="t" style="left:1367.31px;top:643px;font-size:10.05px;line-height:11px;color:#535a6e;">May</span>
<div class="abs" style="left:1157px;top:722px;width:36px;height:36px;background:#FFE2E5;border-radius:6px;"></div>
<svg class="abs" style="left:1163.9px;top:728.9px;" width="22.2" height="22.2" viewBox="0 0 24 24"><g fill="none" stroke="#F64E60" stroke-width="1.500" stroke-linecap="round" stroke-linejoin="round"><rect x="4.300" y="4.400" width="15.400" height="14.900" rx="5"/><path d="M8.100 8.400h4.400"/><path d="M19.700 9.400h-3.300a2.300 2.300 0 0 0 0 4.600h3.300"/><path d="M16.400 11.600h0.100" stroke-width="1.500"/></g></svg>
<span class="t" style="left:1201.00px;top:725px;font-size:12.44px;line-height:14px;font-weight:700;transform:scaleX(1.0435);transform-origin:0 0;">Product Name</span>
<span class="t" style="left:1201.00px;top:741px;font-size:10.53px;line-height:12px;color:#5e6578;letter-spacing:0.01px;transform:scaleX(1.065);transform-origin:0 0;">Categories</span>
<span class="t" style="left:1360.90px;top:727px;font-size:14px;line-height:16px;font-weight:700;color:#80808f;letter-spacing:-0.08px;">+82$</span>
<div class="abs" style="left:1157px;top:774px;width:36px;height:36px;background:#EEE5FF;border-radius:6px;"></div>
<svg class="abs" style="left:1163.9px;top:780.9px;" width="22.2" height="22.2" viewBox="0 0 24 24"><g fill="none" stroke="#8950FC" stroke-width="1.500" stroke-linecap="round" stroke-linejoin="round"><path d="M7.800 8h8.400c1.400 0 2.200 0.700 2.400 2.100l0.700 5.900c0.200 2.100-0.900 3.500-3 3.500H7.700c-2.100 0-3.200-1.400-3-3.500l0.700-5.900C5.600 8.700 6.400 8 7.800 8z"/><path d="M8.300 7.900a3.700 3.700 0 0 1 7.400 0"/><path d="M9.600 11.400h0.100M13.700 11.400h0.100" stroke-width="1.700"/></g></svg>
<span class="t" style="left:1201.00px;top:777px;font-size:12.44px;line-height:14px;font-weight:700;transform:scaleX(1.0435);transform-origin:0 0;">Product Name</span>
<span class="t" style="left:1201.00px;top:793px;font-size:10.53px;line-height:12px;color:#5e6578;letter-spacing:0.01px;transform:scaleX(1.065);transform-origin:0 0;">Categories</span>
<span class="t" style="left:1360.90px;top:779px;font-size:14px;line-height:16px;font-weight:700;color:#80808f;letter-spacing:-0.08px;">+82$</span>
<div class="abs" style="left:1157px;top:826px;width:36px;height:36px;background:#E1E9FF;border-radius:6px;"></div>
<svg class="abs" style="left:1163.9px;top:832.9px;" width="22.2" height="22.2" viewBox="0 0 24 24"><g fill="none" stroke="#6993FF" stroke-width="1.500" stroke-linecap="round" stroke-linejoin="round"><path d="M12 4.600l2.300 4.700 5.100 0.700-3.700 3.600 0.900 5.100-4.600-2.400-4.600 2.400 0.900-5.100-3.700-3.600 5.100-0.700z"/></g></svg>
<span class="t" style="left:1201.00px;top:829px;font-size:12.44px;line-height:14px;font-weight:700;transform:scaleX(1.0435);transform-origin:0 0;">Product Name</span>
<span class="t" style="left:1201.00px;top:845px;font-size:10.53px;line-height:12px;color:#5e6578;letter-spacing:0.01px;transform:scaleX(1.065);transform-origin:0 0;">Categories</span>
<span class="t" style="left:1360.90px;top:831px;font-size:14px;line-height:16px;font-weight:700;color:#80808f;letter-spacing:-0.08px;">+82$</span>
</section>
</main>
</body>
</html>
